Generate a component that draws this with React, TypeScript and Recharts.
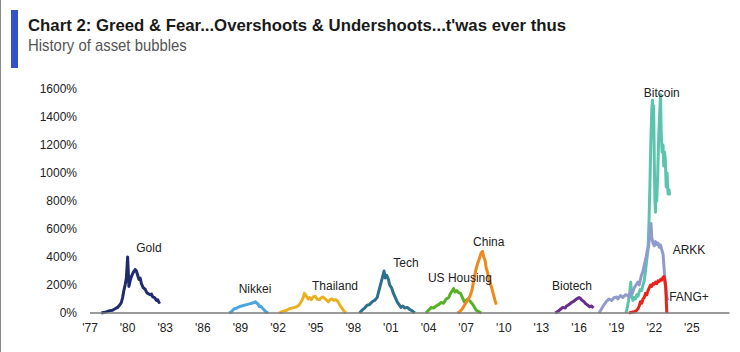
import { LineChart, Line, XAxis, YAxis, ReferenceDot } from 'recharts';

// [year, % gain from start of bubble]
const gold = [[1977.9, 0], [1978.2, 5], [1978.5, 15], [1978.8, 20], [1979.0, 30], [1979.2, 40], [1979.4, 60], [1979.5, 75], [1979.6, 110], [1979.7, 160], [1979.8, 200], [1979.9, 250], [1980.0, 400], [1980.05, 300], [1980.1, 190], [1980.2, 230], [1980.3, 260], [1980.45, 290], [1980.6, 310], [1980.7, 300], [1980.8, 270], [1980.9, 240], [1981.0, 250], [1981.1, 210], [1981.25, 180], [1981.4, 170], [1981.5, 150], [1981.6, 140], [1981.8, 130], [1981.9, 135], [1982.0, 115], [1982.15, 110], [1982.3, 90], [1982.4, 95], [1982.5, 75], [1982.6, 80]];
const nikkei = [[1988.1, 0], [1988.3, 10], [1988.5, 30], [1988.7, 35], [1988.9, 45], [1989.1, 50], [1989.3, 55], [1989.5, 60], [1989.7, 65], [1989.9, 70], [1990.1, 75], [1990.2, 80], [1990.3, 70], [1990.4, 65], [1990.5, 45], [1990.6, 50], [1990.8, 30], [1991.0, 10], [1991.2, 0]];
const thailand = [[1992.1, 0], [1992.3, 10], [1992.5, 15], [1992.7, 20], [1992.9, 30], [1993.1, 35], [1993.3, 40], [1993.5, 45], [1993.7, 60], [1993.9, 90], [1994.0, 110], [1994.1, 140], [1994.25, 120], [1994.4, 100], [1994.5, 110], [1994.65, 95], [1994.8, 115], [1994.95, 120], [1995.1, 100], [1995.3, 95], [1995.45, 110], [1995.6, 115], [1995.75, 100], [1995.9, 90], [1996.0, 80], [1996.15, 95], [1996.3, 100], [1996.45, 90], [1996.6, 95], [1996.75, 85], [1996.9, 60], [1997.0, 45], [1997.2, 20], [1997.4, 0]];
const tech = [[1998.5, 0], [1998.7, 20], [1998.9, 35], [1999.1, 55], [1999.3, 60], [1999.5, 80], [1999.7, 90], [1999.9, 110], [2000.1, 180], [2000.25, 230], [2000.45, 300], [2000.55, 250], [2000.65, 270], [2000.8, 240], [2000.9, 200], [2001.05, 180], [2001.2, 140], [2001.35, 110], [2001.5, 80], [2001.65, 60], [2001.8, 40], [2001.95, 50], [2002.1, 35], [2002.3, 40], [2002.5, 25], [2002.7, 15], [2002.9, 0]];
const usHousing = [[2003.8, 0], [2004.0, 20], [2004.2, 40], [2004.4, 35], [2004.6, 50], [2004.8, 60], [2005.0, 75], [2005.2, 70], [2005.4, 100], [2005.6, 110], [2005.75, 140], [2005.9, 160], [2006.0, 175], [2006.1, 150], [2006.25, 160], [2006.4, 145], [2006.55, 140], [2006.7, 110], [2006.85, 80], [2007.0, 90], [2007.15, 100], [2007.3, 85], [2007.45, 70], [2007.6, 50], [2007.8, 20], [2008.0, 10], [2008.2, 0]];
const china = [[2006.3, 0], [2006.5, 10], [2006.7, 30], [2006.9, 60], [2007.1, 90], [2007.3, 120], [2007.45, 160], [2007.6, 230], [2007.75, 300], [2007.9, 350], [2008.05, 390], [2008.2, 430], [2008.3, 440], [2008.4, 400], [2008.5, 380], [2008.6, 320], [2008.7, 290], [2008.85, 230], [2009.0, 190], [2009.15, 140], [2009.3, 90], [2009.4, 60]];
const biotech = [[2014.1, 0], [2014.3, 10], [2014.5, 25], [2014.7, 40], [2014.9, 35], [2015.0, 50], [2015.2, 60], [2015.4, 75], [2015.6, 85], [2015.8, 100], [2016.0, 110], [2016.1, 105], [2016.25, 90], [2016.4, 80], [2016.55, 65], [2016.7, 55], [2016.85, 45], [2017.0, 50], [2017.15, 35]];
const bitcoin = [[2019.74, 0], [2019.85, 40], [2019.95, 90], [2020.05, 150], [2020.12, 220], [2020.2, 130], [2020.3, 90], [2020.4, 110], [2020.5, 100], [2020.6, 130], [2020.7, 120], [2020.8, 150], [2020.9, 170], [2021.0, 160], [2021.1, 200], [2021.2, 230], [2021.3, 300], [2021.4, 380], [2021.5, 450], [2021.58, 650], [2021.65, 900], [2021.72, 1200], [2021.8, 1450], [2021.86, 1520], [2021.9, 1300], [2021.95, 1480], [2022.0, 1100], [2022.05, 800], [2022.1, 720], [2022.15, 950], [2022.2, 800], [2022.28, 1000], [2022.35, 1250], [2022.42, 1400], [2022.5, 1560], [2022.55, 1300], [2022.62, 1150], [2022.7, 1200], [2022.75, 1050], [2022.82, 1150], [2022.88, 1100], [2022.95, 900], [2023.02, 1000], [2023.1, 850], [2023.18, 880], [2023.22, 840]];
const arkk = [[2017.6, 0], [2017.8, 30], [2018.0, 60], [2018.2, 85], [2018.4, 100], [2018.6, 90], [2018.8, 110], [2019.0, 115], [2019.1, 100], [2019.3, 125], [2019.5, 110], [2019.7, 130], [2019.9, 125], [2020.0, 110], [2020.1, 150], [2020.25, 140], [2020.4, 180], [2020.55, 200], [2020.7, 220], [2020.8, 200], [2020.95, 260], [2021.1, 300], [2021.2, 340], [2021.35, 400], [2021.45, 450], [2021.55, 480], [2021.65, 560], [2021.74, 640], [2021.8, 540], [2021.9, 500], [2022.0, 480], [2022.1, 510], [2022.2, 490], [2022.3, 500], [2022.4, 470], [2022.5, 485], [2022.6, 450], [2022.7, 420], [2022.8, 300], [2022.9, 180], [2023.0, 110], [2023.1, 90]];
const fang = [[2019.98, 0], [2020.2, 5], [2020.4, 10], [2020.55, 15], [2020.7, 30], [2020.8, 50], [2020.9, 80], [2021.0, 70], [2021.1, 100], [2021.2, 110], [2021.3, 140], [2021.4, 130], [2021.5, 160], [2021.6, 180], [2021.7, 200], [2021.8, 190], [2021.9, 210], [2022.0, 205], [2022.1, 220], [2022.2, 210], [2022.3, 230], [2022.4, 225], [2022.5, 240], [2022.6, 235], [2022.7, 255], [2022.78, 260], [2022.85, 230], [2022.92, 180], [2022.96, 80], [2023.0, 0]];

const xTicks = [1977, 1980, 1983, 1986, 1989, 1992, 1995, 1998, 2001, 2004, 2007, 2010, 2013, 2016, 2019, 2022, 2025];
const yTicks = [0, 200, 400, 600, 800, 1000, 1200, 1400, 1600];

// where each bubble's name sits, in data units
const seriesLabels = [
  { text: 'Gold', x: 1981.7, y: 464 },
  { text: 'Nikkei', x: 1990.16, y: 171 },
  { text: 'Thailand', x: 1996.54, y: 193 },
  { text: 'Tech', x: 2002.2, y: 357 },
  { text: 'US Housing', x: 2006.5, y: 250 },
  { text: 'China', x: 2008.8, y: 507 },
  { text: 'Biotech', x: 2015.44, y: 193 },
  { text: 'Bitcoin', x: 2022.6, y: 1571 },
  { text: 'ARKK', x: 2024.77, y: 450 },
  { text: 'FANG+', x: 2024.77, y: 114 },
];

const SERIES = [
  { name: 'Gold', color: '#1f2b6e', points: gold },
  { name: 'Nikkei', color: '#4ea5dd', points: nikkei },
  { name: 'Thailand', color: '#e9b021', points: thailand },
  { name: 'Tech', color: '#2e6e8e', points: tech },
  { name: 'US Housing', color: '#55b226', points: usHousing },
  { name: 'China', color: '#f0891d', points: china },
  { name: 'Biotech', color: '#6b2c8c', points: biotech },
  { name: 'Bitcoin', color: '#5cc4ad', points: bitcoin },
  { name: 'ARKK', color: '#8f9bcb', points: arkk },
  { name: 'FANG+', color: '#e8231b', points: fang },
];

const FONT = '"Liberation Sans", Arial, sans-serif';

const yr = (t: number) => "'" + String(t).slice(2);

export default function App() {
  return (
    <div style={{ position: 'absolute', left: 0, top: 0, width: 740, height: 352, background: '#fff', overflow: 'hidden', borderLeft: '1px solid #888', boxSizing: 'border-box' }}>
      <div style={{ position: 'absolute', left: 10, top: 10, width: 7, height: 58, background: '#3152c9' }} />
      <div style={{ position: 'absolute', left: 27, top: 16, fontFamily: FONT, fontWeight: 700, fontSize: 17, lineHeight: '20px', color: '#1a1a1a', whiteSpace: 'nowrap', transform: 'scaleX(0.985)', transformOrigin: 'left' }}>
        Chart 2: Greed &amp; Fear...Overshoots &amp; Undershoots...t'was ever thus
      </div>
      <div style={{ position: 'absolute', left: 27, top: 36, fontFamily: FONT, fontSize: 17, lineHeight: '20px', color: '#555', whiteSpace: 'nowrap', transform: 'scaleX(0.875)', transformOrigin: 'left' }}>
        History of asset bubbles
      </div>
      <div style={{ position: 'absolute', left: 0, top: 0 }}>
        <LineChart width={740} height={352} margin={{ top: 89, right: 11.5, bottom: 0, left: 0 }}>
          <XAxis
            type="number"
            dataKey="x"
            domain={[1977, 2028]}
            ticks={xTicks}
            interval={0}
            tickFormatter={yr}
            tickLine={false}
            tickSize={0}
            tickMargin={10}
            height={39}
            axisLine={{ stroke: '#7a7a7a', strokeWidth: 1.5 }}
            tick={{ fill: '#222', fontSize: 12, fontFamily: FONT }}
            allowDataOverflow
          />
          <YAxis
            type="number"
            domain={[0, 1600]}
            ticks={yTicks}
            interval={0}
            tickFormatter={(v: number) => v + '%'}
            width={89}
            tickLine={false}
            tickSize={0}
            tickMargin={13}
            axisLine={false}
            tick={{ fill: '#222', fontSize: 12, fontFamily: FONT }}
          />
          {SERIES.map(s => (
            <Line
              key={s.name}
              data={s.points.map(([x, y]) => ({ x, y }))}
              dataKey="y"
              type="linear"
              stroke={s.color}
              strokeWidth={3}
              strokeLinejoin="round"
              dot={false}
              activeDot={false}
              isAnimationActive={false}
            />
          ))}
          {seriesLabels.map(l => (
            <ReferenceDot
              key={l.text}
              x={l.x}
              y={l.y}
              r={0}
              shape={(p: any) => (
                <text x={p.cx} y={p.cy} textAnchor="middle" dominantBaseline="central" fill="#222" fontSize={12} fontFamily={FONT}>
                  {l.text}
                </text>
              )}
            />
          ))}
        </LineChart>
      </div>
    </div>
  );
}
